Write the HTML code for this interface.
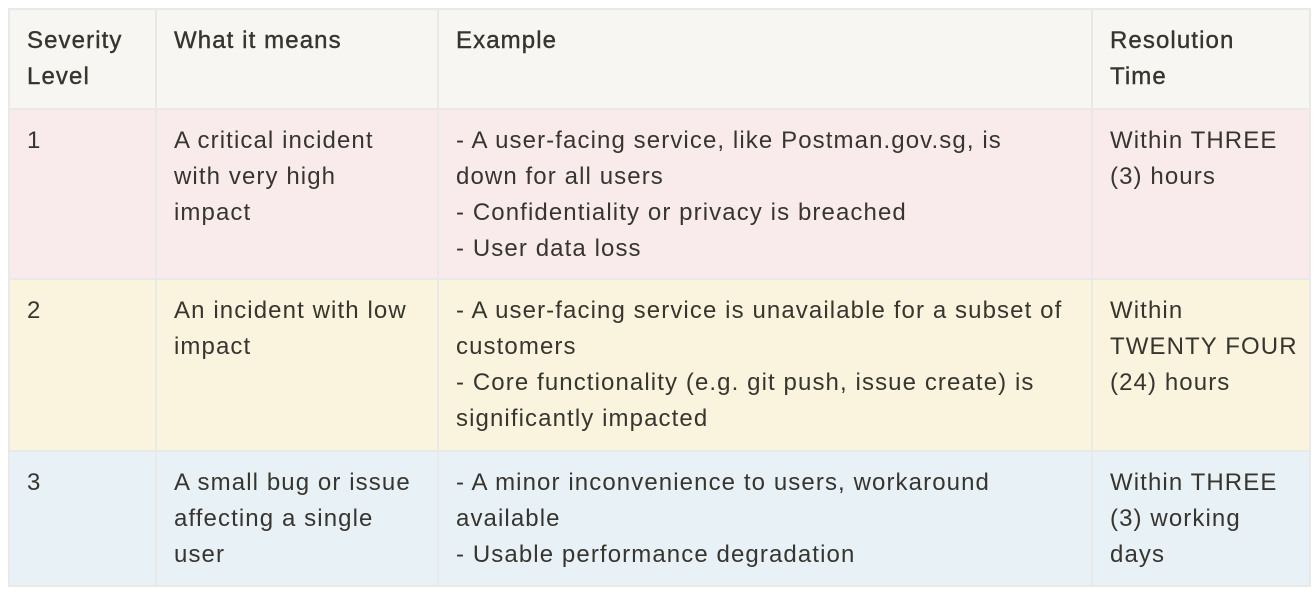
<!DOCTYPE html>
<html><head><style>
body{margin:0;background:#fff;width:1316px;height:594px;overflow:hidden}
table{position:absolute;left:8px;top:8px;border-collapse:collapse;table-layout:fixed;width:1301px;font-family:"Liberation Sans",sans-serif;font-size:24px;letter-spacing:1.1px;line-height:36px;color:#37352f}
td{border:2px solid #e9e9e7;vertical-align:top;padding:13px 4px 0 17px;white-space:nowrap}
tr.h td{background:#f7f6f3;-webkit-text-stroke:0.4px #37352f}
tr.r1 td{background:#f9ebeb}
tr.r2 td{background:#faf3dd}
tr.r3 td{background:#e8f1f6}
</style></head><body>
<table>
<colgroup><col style="width:147px"><col style="width:282px"><col style="width:654px"><col style="width:218px"></colgroup>
<tr class="h" style="height:100px"><td>Severity<br>Level</td><td>What it means</td><td>Example</td><td>Resolution<br>Time</td></tr>
<tr class="r1" style="height:170px"><td>1</td><td>A critical incident<br>with very high<br>impact</td><td>- A user-facing service, like Postman.gov.sg, is<br>down for all users<br>- Confidentiality or privacy is breached<br>- User data loss</td><td>Within THREE<br>(3) hours</td></tr>
<tr class="r2" style="height:172px"><td>2</td><td>An incident with low<br>impact</td><td>- A user-facing service is unavailable for a subset of<br>customers<br>- Core functionality (e.g. git push, issue create) is<br>significantly impacted</td><td>Within<br>TWENTY FOUR<br>(24) hours</td></tr>
<tr class="r3" style="height:135px"><td>3</td><td>A small bug or issue<br>affecting a single<br>user</td><td>- A minor inconvenience to users, workaround<br>available<br>- Usable performance degradation</td><td>Within THREE<br>(3) working<br>days</td></tr>
</table>
</body></html>
